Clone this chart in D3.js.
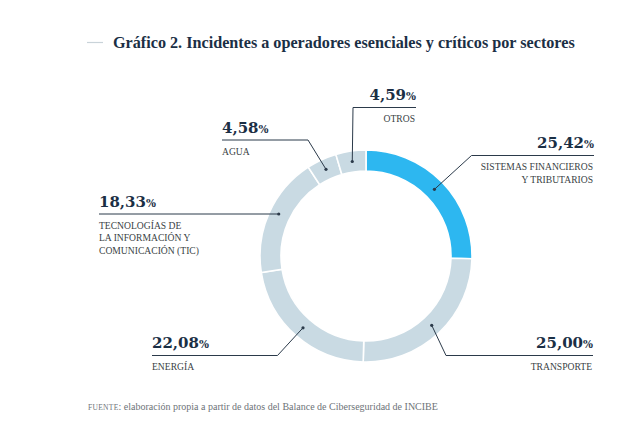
<!DOCTYPE html>
<html><head><meta charset="utf-8">
<script src="https://cdn.jsdelivr.net/npm/d3@7"></script>
<style>
body{margin:0;background:#fff;}
svg{display:block;}
</style></head>
<body>
<svg id="chart" width="642" height="432"></svg>
<script>
const categories = ["SISTEMAS FINANCIEROS|Y TRIBUTARIOS","TRANSPORTE","ENERGÍA","TECNOLOGÍAS DE|LA INFORMACIÓN Y|COMUNICACIÓN (TIC)","AGUA","OTROS"];
const values = [25.42, 25.00, 22.08, 18.33, 4.58, 4.59];
const valueLabels = ["25,42","25,00","22,08","18,33","4,58","4,59"];
const highlighted = [true,false,false,false,false,false];

const svg = d3.select("#chart");
const cx = 366, cy = 256, rOuter = 106, rInner = 85;
const navy = "#1b2f45";

// title
svg.append("line").attr("x1",87).attr("x2",103).attr("y1",42.5).attr("y2",42.5)
  .attr("stroke","#c9d3d9").attr("stroke-width",1.2);
const title = svg.append("text").attr("x",113).attr("y",47.5)
  .attr("font-family","Liberation Serif").attr("font-weight","bold").attr("font-size",17)
  .attr("fill",navy)
  .text("Gráfico 2. Incidentes a operadores esenciales y críticos por sectores");
{
  const w = title.node().getComputedTextLength();
  title.attr("font-size", Math.min(19, 17*462/w));
}

const pie = d3.pie().sort(null).value(d=>d)(values);
const arc = d3.arc().innerRadius(rInner).outerRadius(rOuter);
const g = svg.append("g").attr("transform",`translate(${cx},${cy})`);
g.selectAll("path").data(pie).join("path")
  .attr("d",arc)
  .attr("fill",(d,i)=>highlighted[i]?"#2db7f0":"#c9dae3")
  .attr("stroke","#fff").attr("stroke-width",1.6);

const layout = [
  {bend:[471.5,155.5], end:594, anchor:"end"},
  {bend:[446,355.5], end:593, anchor:"end"},
  {bend:[277.5,355.5], end:152, anchor:"start"},
  {bend:null, y:214, end:99, anchor:"start"},
  {bend:[308,140], end:222, anchor:"start"},
  {bend:[353,107.5], end:416, anchor:"end"}
];
const rDot = (rInner+rOuter)/2;
pie.forEach((d,i)=>{
  const L = layout[i];
  const a = (d.startAngle+d.endAngle)/2;
  const dx = cx + rDot*Math.sin(a), dy = cy - rDot*Math.cos(a);
  let pts, lineY;
  if(L.bend){ pts=[[dx,dy],L.bend,[L.end,L.bend[1]]]; lineY=L.bend[1]; }
  else { pts=[[dx,L.y],[L.end,L.y]]; lineY=L.y; }
  svg.append("path").attr("d",d3.line()(pts)).attr("fill","none")
    .attr("stroke","#2b3a4a").attr("stroke-width",1);
  svg.append("circle").attr("cx",dx).attr("cy",L.bend?dy:L.y).attr("r",1.6).attr("fill","#2b3a4a");
  const t = svg.append("text").attr("x",L.end).attr("y",lineY-7.5)
    .attr("text-anchor",L.anchor).attr("font-family","DejaVu Serif").attr("fill",navy).attr("font-weight","bold");
  t.append("tspan").attr("font-size",15).text(valueLabels[i]);
  t.append("tspan").attr("font-size",10.5).text("%");
  const lines = categories[i].split("|");
  lines.forEach((s,j)=>{
    svg.append("text").attr("x",L.anchor==="end"?L.end-1:L.end).attr("y",lineY+14.5+j*12.5)
      .attr("text-anchor",L.anchor).attr("font-family","Liberation Serif").attr("font-size",9.6)
      .attr("fill","#3a3f45").text(s);
  });
});

// footnote
const f = svg.append("text").attr("x",88).attr("y",410).attr("font-family","Liberation Serif")
  .attr("font-size",10).attr("fill","#6d7378");
f.append("tspan").attr("font-size",7.5).attr("letter-spacing",0.3).text("FUENTE");
f.append("tspan").text(": elaboración propia a partir de datos del Balance de Ciberseguridad de INCIBE");
</script>
</body></html>
